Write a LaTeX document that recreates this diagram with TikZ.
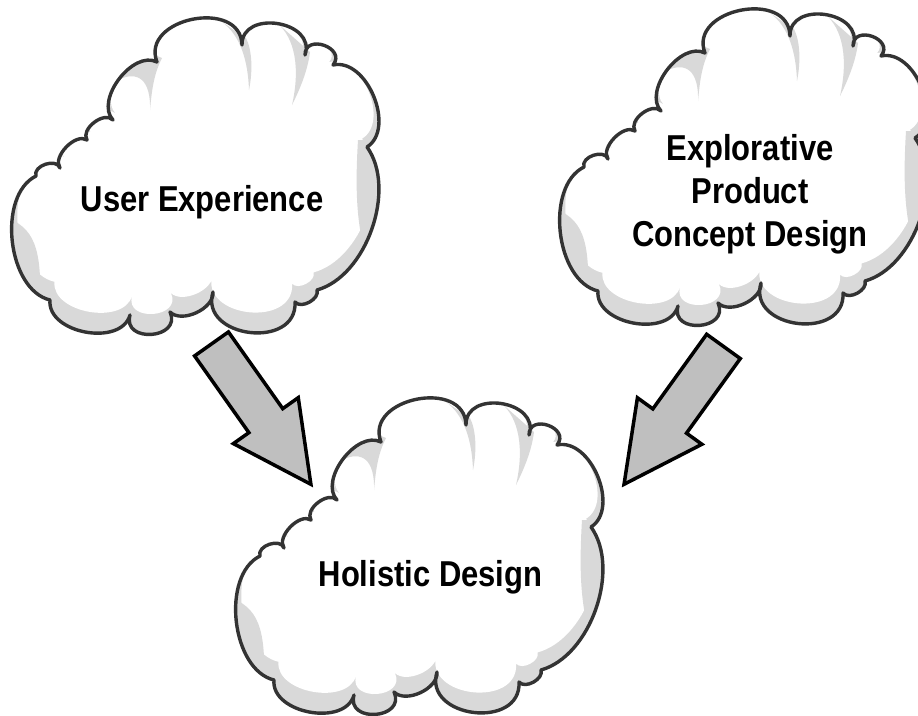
\documentclass[tikz,border=0pt]{standalone}
\usepackage{fontspec}
\setmainfont{Liberation Sans}
\usetikzlibrary{shapes.arrows}

\tikzstyle{cloudline} = [draw=black!80, line width=3.4pt, line join=round]
\tikzstyle{cloudshade} = [fill=black!15]
\tikzstyle{cloudtext} = [font=\fontsize{36}{43}\selectfont\bfseries, align=center, xscale=0.86, inner sep=0pt]
\tikzstyle{blockarrow} = [single arrow, draw=black, fill=black!25, line width=3.5pt, line join=miter, inner xsep=0pt, inner ysep=19pt, single arrow head extend=19pt, single arrow tip angle=54, single arrow head indent=0pt, minimum width=0pt, anchor=tail]

% outline of one cloud, clockwise from the lower left cusp
\newcommand{\puffpath}{(50,300)
  to[bend left=70,looseness=0.9] (36,176)
  to[bend left=90,looseness=1.1] (60,168)
  to[bend left=80,looseness=0.9] (87,140)
  to[bend left=85,looseness=1.0] (113,120)
  to[bend left=80,looseness=0.95] (157,62)
  to[bend left=100,looseness=1.4] (242,45)
  to[bend left=100,looseness=1.45] (305,55)
  to[bend left=110,looseness=1.9] (333,65)
  to[bend left=80,looseness=1.0] (367,147)
  to[bend left=55,looseness=0.87] (317,290)
  to[bend left=80,looseness=0.97] (295,302)
  to[bend left=100,looseness=1.5] (213,292)
  to[bend left=70,looseness=0.9] (170,312)
  to[bend left=110,looseness=1.9] (130,315)
  to[bend left=85,looseness=1.05] (50,300) -- cycle}

% grey folds under the puffs
\newcommand{\creasepath}{
  (118,80) .. controls (138,70) and (151,80) .. (150,110) .. controls (152,88) and (154,74) .. (162,58) -- (130,45) -- cycle
  (222,22) .. controls (240,35) and (248,60) .. (249,90) .. controls (253,70) and (252,50) .. (246,38) -- cycle
  (276,22) .. controls (296,38) and (300,70) .. (292,105) .. controls (302,85) and (308,68) .. (310,52) -- cycle
  (358,140) .. controls (355,190) and (356,230) .. (370,268) -- (420,268) -- (420,140) -- cycle
  (0,215) .. controls (30,225) and (42,240) .. (40,300) -- (0,300) -- cycle}

\newcommand{\puff}{
  \fill[cloudshade] \puffpath;
  \begin{scope}
    \clip \puffpath;
    \fill[white, shift={(200,20)}, xscale=0.97, yscale=0.935, shift={(-200,-20)}] \puffpath;
    \fill[cloudshade] \creasepath;
  \end{scope}
  \draw[cloudline] \puffpath;
}

\begin{document}
\begin{tikzpicture}[x=1pt, y=-1pt]

\useasboundingbox (0,0) rectangle (918,715);

% the three clouds
\begin{scope}
  \puff
\end{scope}
\begin{scope}[shift={(548,-9)}]
  \puff
\end{scope}
\begin{scope}[shift={(224,380)}]
  \puff
\end{scope}

\node (ux) [cloudtext, anchor=base] at (202,211) {User Experience};
\node (explore) [cloudtext] at (750,194) {Explorative\\Product\\Concept Design};
\node (holistic) [cloudtext, anchor=base] at (430.5,586) {Holistic Design};

% block arrows into the lower cloud
\node (uxarrow) [blockarrow, minimum height=172pt, rotate=-54.7] at (210.5,342.5) {};
\node (eparrow) [blockarrow, minimum height=170pt, rotate=-125.8] at (724.5,345) {};

\end{tikzpicture}
\end{document}
